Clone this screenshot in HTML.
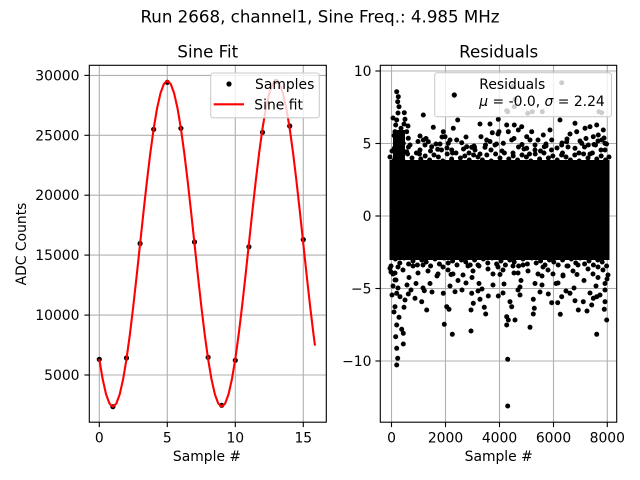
<!DOCTYPE html>
<html><head><meta charset="utf-8"><style>
html,body{margin:0;padding:0;background:#fff;}
svg{display:block;}
text{font-family:"DejaVu Sans","Liberation Sans",sans-serif;fill:#000;}
</style></head><body>
<svg width="640" height="480" viewBox="0 0 640 480" xmlns="http://www.w3.org/2000/svg">
<defs>
<clipPath id="cl"><rect x="89.3" y="65.3" width="237" height="356.9"/></clipPath>
<clipPath id="cr"><rect x="380.3" y="65.3" width="236.4" height="356.9"/></clipPath>
</defs>
<rect width="640" height="480" fill="#fff"/>
<text x="320" y="22.5" font-size="16.67" text-anchor="middle">Run 2668, channel1, Sine Freq.: 4.985 MHz</text>

<!-- LEFT AXES -->
<text x="207.8" y="57.5" font-size="16.67" text-anchor="middle">Sine Fit</text>
<g stroke="#b0b0b0" stroke-width="1.1">
<line x1="99.3" y1="65.3" x2="99.3" y2="422.2"/>
<line x1="167.3" y1="65.3" x2="167.3" y2="422.2"/>
<line x1="235.3" y1="65.3" x2="235.3" y2="422.2"/>
<line x1="303.3" y1="65.3" x2="303.3" y2="422.2"/>
<line x1="89.3" y1="375" x2="326.3" y2="375"/>
<line x1="89.3" y1="315.1" x2="326.3" y2="315.1"/>
<line x1="89.3" y1="255.1" x2="326.3" y2="255.1"/>
<line x1="89.3" y1="195.2" x2="326.3" y2="195.2"/>
<line x1="89.3" y1="135.3" x2="326.3" y2="135.3"/>
<line x1="89.3" y1="75.4" x2="326.3" y2="75.4"/>
</g>
<g clip-path="url(#cl)">
<g fill="#000">
<circle cx="99.3" cy="359.3" r="2.6"/>
<circle cx="112.9" cy="406.7" r="2.6"/>
<circle cx="126.5" cy="358" r="2.6"/>
<circle cx="140.1" cy="243.5" r="2.6"/>
<circle cx="153.7" cy="129.3" r="2.6"/>
<circle cx="167.3" cy="82.3" r="2.6"/>
<circle cx="180.9" cy="128.3" r="2.6"/>
<circle cx="194.5" cy="242" r="2.6"/>
<circle cx="208.1" cy="357.3" r="2.6"/>
<circle cx="221.7" cy="405.3" r="2.6"/>
<circle cx="235.3" cy="360.3" r="2.6"/>
<circle cx="248.9" cy="246.8" r="2.6"/>
<circle cx="262.5" cy="132.3" r="2.6"/>
<circle cx="276.1" cy="81.5" r="2.6"/>
<circle cx="289.7" cy="126" r="2.6"/>
<circle cx="303.3" cy="239.6" r="2.6"/>
</g>
<polyline fill="none" stroke="#ff0000" stroke-width="2.1" stroke-linejoin="round" points="99.3,359.02 102.7,379.29 106.1,394.35 109.5,403.63 112.9,406.76 116.3,403.63 119.7,394.35 123.1,379.29 126.5,359.02 129.9,334.32 133.3,306.14 136.7,275.56 140.1,243.76 143.5,211.96 146.9,181.38 150.3,153.2 153.7,128.5 157.1,108.23 160.5,93.17 163.9,83.89 167.3,80.76 170.7,83.89 174.1,93.17 177.5,108.23 180.9,128.5 184.3,153.2 187.7,181.38 191.1,211.96 194.5,243.76 197.9,275.56 201.3,306.14 204.7,334.32 208.1,359.02 211.5,379.29 214.9,394.35 218.3,403.63 221.7,406.76 225.1,403.63 228.5,394.35 231.9,379.29 235.3,359.02 238.7,334.32 242.1,306.14 245.5,275.56 248.9,243.76 252.3,211.96 255.7,181.38 259.1,153.2 262.5,128.5 265.9,108.23 269.3,93.17 272.7,83.89 276.1,80.76 279.5,83.89 282.9,93.17 286.3,108.23 289.7,128.5 293.1,153.2 296.5,181.38 299.9,211.96 303.3,243.76 306.7,275.56 310.1,306.14 313.5,334.32 315,345.6"/>
</g>
<rect x="89.3" y="65.3" width="237" height="356.9" fill="none" stroke="#000" stroke-width="1.1"/>
<g stroke="#000" stroke-width="1.1">
<line x1="99.3" y1="422.2" x2="99.3" y2="427.1"/>
<line x1="167.3" y1="422.2" x2="167.3" y2="427.1"/>
<line x1="235.3" y1="422.2" x2="235.3" y2="427.1"/>
<line x1="303.3" y1="422.2" x2="303.3" y2="427.1"/>
<line x1="84.4" y1="375" x2="89.3" y2="375"/>
<line x1="84.4" y1="315.1" x2="89.3" y2="315.1"/>
<line x1="84.4" y1="255.1" x2="89.3" y2="255.1"/>
<line x1="84.4" y1="195.2" x2="89.3" y2="195.2"/>
<line x1="84.4" y1="135.3" x2="89.3" y2="135.3"/>
<line x1="84.4" y1="75.4" x2="89.3" y2="75.4"/>
</g>
<g font-size="13.9" text-anchor="middle">
<text x="99.3" y="442.5">0</text>
<text x="167.3" y="442.5">5</text>
<text x="235.3" y="442.5">10</text>
<text x="303.3" y="442.5">15</text>
<text x="207" y="461">Sample #</text>
</g>
<g font-size="13.9" text-anchor="end">
<text x="79.5" y="380">5000</text>
<text x="79.5" y="320.1">10000</text>
<text x="79.5" y="260.1">15000</text>
<text x="79.5" y="200.2">20000</text>
<text x="79.5" y="140.3">25000</text>
<text x="79.5" y="80.4">30000</text>
</g>
<text transform="translate(26,244) rotate(-90)" font-size="13.9" text-anchor="middle">ADC Counts</text>
<!-- left legend -->
<rect x="210.7" y="73" width="108.6" height="44.8" rx="2.5" fill="#fff" fill-opacity="0.8" stroke="#cccccc" stroke-width="1.1"/>
<circle cx="229" cy="84" r="2.6" fill="#000"/>
<line x1="213.7" y1="104.3" x2="244" y2="104.3" stroke="#ff0000" stroke-width="2.1"/>
<text x="255" y="89" font-size="13.9">Samples</text>
<text x="254.3" y="109.3" font-size="13.9">Sine fit</text>

<!-- RIGHT AXES -->
<text x="498.7" y="57.5" font-size="16.67" text-anchor="middle">Residuals</text>
<g stroke="#b0b0b0" stroke-width="1.1">
<line x1="391.5" y1="65.3" x2="391.5" y2="422.2"/>
<line x1="445.5" y1="65.3" x2="445.5" y2="422.2"/>
<line x1="499.5" y1="65.3" x2="499.5" y2="422.2"/>
<line x1="553.5" y1="65.3" x2="553.5" y2="422.2"/>
<line x1="607.3" y1="65.3" x2="607.3" y2="422.2"/>
<line x1="380.3" y1="71" x2="616.7" y2="71"/>
<line x1="380.3" y1="143.5" x2="616.7" y2="143.5"/>
<line x1="380.3" y1="216" x2="616.7" y2="216"/>
<line x1="380.3" y1="288.5" x2="616.7" y2="288.5"/>
<line x1="380.3" y1="361" x2="616.7" y2="361"/>
</g>
<g clip-path="url(#cr)">
<rect x="389.5" y="160" width="220" height="100" fill="#000"/>
<rect x="393" y="130" width="12" height="32" fill="#000"/>
<path fill="none" stroke="#000" stroke-width="5" stroke-linecap="round" d="
M390 157h0M394.4 160h0M398.8 155h0M403.2 161h0M407.6 154h0M412 158h0M416.4 153h0M420.8 159h0M425.2 156h0M429.6 160h0M434 155h0M438.4 157h0M442.8 161h0M447.2 154h0M451.6 159h0M456 153h0M460.4 158h0M464.8 156h0M469.2 160h0M473.6 155h0M478 157h0M482.4 160h0M486.8 155h0M491.2 161h0M495.6 154h0M500 158h0M504.4 153h0M508.8 159h0M513.2 156h0M517.6 160h0M522 155h0M526.4 157h0M530.8 161h0M535.2 154h0M539.6 159h0M544 153h0M548.4 158h0M552.8 156h0M557.2 160h0M561.6 155h0M566 157h0M570.4 160h0M574.8 155h0M579.2 161h0M583.6 154h0M588 158h0M592.4 153h0M596.8 159h0M601.2 156h0M605.6 160h0M609 157h0
M392 151h0M397.5 148h0M403 153h0M408.5 147h0M419.5 154h0M425 145h0M430.5 151h0M436 144h0M441.5 150h0M447 148h0M452.5 153h0M463.5 149h0M469 153h0M474.5 147h0M480 154h0M485.5 145h0M491 150h0M496.5 144h0M502 151h0M513 153h0M518.5 147h0M524 149h0M529.5 154h0M535 145h0M540.5 151h0M546 144h0M551.5 150h0M557 148h0M562.5 153h0M568 147h0M579 153h0M584.5 147h0M590 154h0M595.5 145h0M601 150h0M606.5 144h0
M394 135.5h0M402 143h0M418 141.5h0M426 138.5h0M442 137h0M450 140h0M466 137h0M474 146h0M490 141.5h0M498 134h0M514 138.5h0M522 144.5h0M538 140h0M546 146h0M562 143h0M570 134h0M586 138.5h0M594 144.5h0M604 138h0M598 141h0M580 141h0M567 139h0
M391 266h0M395.4 259h0M399.8 263h0M404.2 258h0M408.6 264h0M413 261h0M417.4 265h0M421.8 260h0M426.2 262h0M430.6 266h0M435 259h0M439.4 264h0M443.8 258h0M448.2 263h0M452.6 261h0M457 265h0M461.4 260h0M465.8 262h0M470.2 265h0M474.6 260h0M479 266h0M483.4 259h0M487.8 263h0M492.2 258h0M496.6 264h0M501 261h0M505.4 265h0M509.8 260h0M514.2 262h0M518.6 266h0M523 259h0M527.4 264h0M531.8 258h0M536.2 263h0M540.6 261h0M545 265h0M549.4 260h0M553.8 262h0M558.2 265h0M562.6 260h0M567 266h0M571.4 259h0M575.8 263h0M580.2 258h0M584.6 264h0M589 261h0M593.4 265h0M597.8 260h0M602.2 262h0M606.6 266h0
M393 274h0M398 267h0M403 270h0M413 266h0M418 273h0M423 265h0M428 271h0M438 274h0M443 267h0M448 270h0M453 274h0M463 275h0M468 266h0M473 271h0M478 265h0M488 269h0M493 274h0M498 267h0M503 270h0M513 266h0M518 273h0M523 265h0M528 271h0M538 274h0M543 267h0M548 270h0M553 274h0M563 275h0M568 266h0M573 271h0M578 265h0M588 269h0M593 274h0M598 267h0M603 270h0M608 275h0
M395 273h0M409 277.5h0M416 283.5h0M430 283.5h0M437 276h0M451 274.5h0M458 280.5h0M472 277.5h0M479 283.5h0M493 285h0M500 274.5h0M514 273h0M521 280.5h0M535 283.5h0M542 276h0M556 283.5h0M563 276h0M577 274.5h0M584 280.5h0M598 277.5h0M605 283.5h0
M391 272h0M396 280h0M407 285h0M423 288h0M450 286h0M466 283h0M482 289h0M504 284h0M520 287h0M542 285h0M558 283h0M574 288h0M596 286h0M607 279h0
M396.7 91.7h0M398.3 96.7h0M397.7 101.7h0M399 106.7h0M404.3 112.7h0M398 113h0M396.7 120h0M405 119.3h0M395.7 125h0M401 128.3h0M406.7 131.7h0M395 131.7h0M400 136.7h0M408.3 138.3h0M395.7 143.3h0M403.3 143.3h0M410 145h0M394.3 148.3h0M401 150h0M406.7 151.7h0M393 118h0M404 124h0M408 126h0
M423.3 115h0M433.3 127.3h0M420 136h0M423.3 140h0M428.3 141.7h0M443.3 131.7h0M445 136.7h0M453.3 128.3h0M457.7 120h0M456.7 140h0M461.7 142.7h0M440 144h0M448.3 143.3h0M420 150h0M431.7 146.7h0M437.7 149.3h0M451.7 150h0M466.7 146.7h0M471.7 147.3h0M480 124h0M490 124h0M481 136.7h0M486.7 140h0M492.3 132.7h0M498.3 119.3h0M499 131.7h0M506.7 125h0M508.3 131.7h0M514.3 125h0M518.3 130h0M521.7 126.7h0M511.7 140h0M503.3 143.3h0M495 145h0M485 147.3h0M475 150h0M526.7 136.7h0M531.7 131.7h0M530 140h0M535 150h0M526.7 148.3h0M543.3 135h0M550 130h0M551.7 140h0M560 120h0M544.3 146.7h0M561.7 145h0M566.7 141.7h0M575 123.3h0M576.7 131.7h0M585 128.3h0M590 126.7h0M596.7 125h0M593.3 136.7h0M598.3 135h0M603.3 130h0M601.7 140h0M605 143.3h0M581.7 143.3h0M588.3 145h0M575 148.3h0M605 150h0
M507.7 111.7h0M514.3 106.7h0M527.7 113.3h0M542.3 111.7h0M561.7 82.7h0M515 99.3h0M601.7 112.7h0M599 111.7h0M532.3 111.7h0M513 86.7h0M506.7 110.7h0
M390 268.3h0M395 280h0M396.7 293.3h0M395 306.7h0M399 317.3h0M396.7 325h0M401.7 329.3h0M395.7 336.7h0M403.3 333.3h0M396.7 348.3h0M403.3 344h0M397.7 358.3h0M396.7 365h0M404 307.3h0M400 296.7h0M408.3 294h0M415 298.3h0M421.7 301.7h0M426.7 310h0M424.3 290.7h0M443.3 293.3h0M446.7 306.7h0M449 309.3h0M444.3 324.3h0M452.3 334.3h0M455 291.7h0M471.7 293.3h0M473.3 303.3h0M471 310h0M471 331h0M480 299.3h0M484.3 307.3h0M485.7 314h0M488.3 296h0M498.3 296h0M506.7 316.7h0M506.7 325h0M508.3 320h0M511.7 306.7h0M510 301.7h0M515 320h0M507.7 359.3h0M507.7 406h0M520 295h0M533.3 299.3h0M534.3 308.3h0M533.3 314h0M530 327.3h0M548.3 294h0M551.7 302.7h0M557.7 302.7h0M560.3 314.3h0M561.7 296.7h0M570 293.3h0M575 300.7h0M578.3 310h0M583.3 301.7h0M587 311h0M591.7 305h0M596.7 296.7h0M593.3 298.3h0M605 301.7h0M604.3 309.3h0M606.7 320h0M596.7 334.3h0M605 290h0
M392 295h0M398 288h0M405 300h0M411 290h0M432 292h0M462 290h0M478 291h0M503 293h0M518 290h0M540 292h0M566 291h0M590 293h0M600 295h0M394 312h0M393 286h0
"/>
</g>
<rect x="380.3" y="65.3" width="236.4" height="356.9" fill="none" stroke="#000" stroke-width="1.1"/>
<g stroke="#000" stroke-width="1.1">
<line x1="391.5" y1="422.2" x2="391.5" y2="427.1"/>
<line x1="445.5" y1="422.2" x2="445.5" y2="427.1"/>
<line x1="499.5" y1="422.2" x2="499.5" y2="427.1"/>
<line x1="553.5" y1="422.2" x2="553.5" y2="427.1"/>
<line x1="607.3" y1="422.2" x2="607.3" y2="427.1"/>
<line x1="375.4" y1="71" x2="380.3" y2="71"/>
<line x1="375.4" y1="143.5" x2="380.3" y2="143.5"/>
<line x1="375.4" y1="216" x2="380.3" y2="216"/>
<line x1="375.4" y1="288.5" x2="380.3" y2="288.5"/>
<line x1="375.4" y1="361" x2="380.3" y2="361"/>
</g>
<g font-size="13.9" text-anchor="middle">
<text x="391.5" y="442.5">0</text>
<text x="445.5" y="442.5">2000</text>
<text x="499.5" y="442.5">4000</text>
<text x="553.5" y="442.5">6000</text>
<text x="607.3" y="442.5">8000</text>
<text x="498.7" y="461">Sample #</text>
</g>
<g font-size="13.9" text-anchor="end">
<text x="371.5" y="76">10</text>
<text x="371.5" y="148.5">5</text>
<text x="371.5" y="221">0</text>
<text x="371.5" y="293.5">−5</text>
<text x="371.5" y="366">−10</text>
</g>
<!-- right legend -->
<rect x="434.7" y="72.7" width="176.8" height="44" rx="2.5" fill="#fff" fill-opacity="0.8" stroke="#cccccc" stroke-width="1.1"/>
<circle cx="454.3" cy="95" r="2.6" fill="#000"/>
<text x="479.3" y="89" font-size="13.9">Residuals</text>
<text x="479.3" y="106" font-size="13.9"><tspan font-style="italic">μ</tspan> = -0.0, <tspan font-style="italic">σ</tspan> = 2.24</text>
</svg>
</body></html>
